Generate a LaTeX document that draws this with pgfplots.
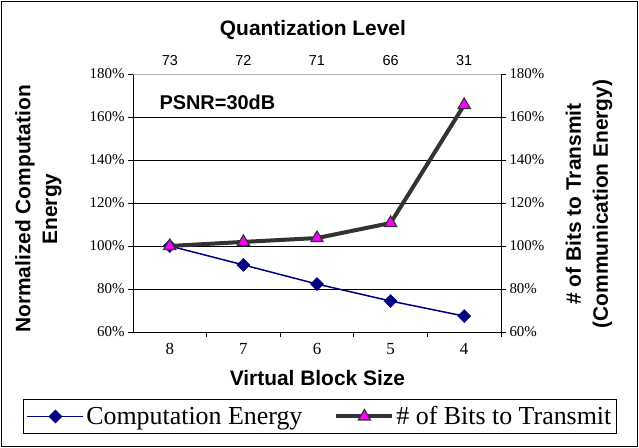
\documentclass[border=0pt]{standalone}
\usepackage{fontspec}
\setmainfont{Liberation Serif}
\setsansfont{Liberation Sans}
\usepackage{pgfplots}
\pgfplotsset{compat=1.18}

\definecolor{compnavy}{RGB}{0,0,128}
\definecolor{bitsgray}{RGB}{51,51,51}
\definecolor{bitsmag}{RGB}{255,0,255}

\tikzset{boldlab/.style={font=\sffamily\bfseries\fontsize{21}{27}\selectfont, align=center}}

% shared frame for both y axes
\pgfplotsset{
  base/.style={
    scale only axis, width=368bp, height=258bp,
    at={(133bp,116bp)}, anchor=south west,
    xmin=-0.5, xmax=4.5, ymin=60, ymax=180,
    ytick={60,80,...,180},
    /pgf/number format/assume math mode=true,
    yticklabel={\pgfmathprintnumber{\tick}\%},
    yticklabel style={font=\fontsize{15}{15}\selectfont},
    tick align=outside, major tick length=5bp,
    tick style={black, line width=0.8bp},
    axis line style={black, line width=0.8bp},
    clip=false,
  },
}

\begin{document}
\begin{tikzpicture}
\useasboundingbox (0,0) rectangle (639bp,448bp);
\draw[line width=1bp] (1.5bp,1.5bp) rectangle (637.5bp,446.5bp);

\begin{axis}[base,
  axis x line*=bottom, axis y line*=left,
  ymajorgrids, grid style={black, line width=0.6bp},
  % labels at the category centres; tick marks on the boundaries drawn below
  xtick={0,...,4}, xticklabels={8,7,6,5,4},
  xtick style={draw=none},
  xticklabel style={font=\fontsize{17}{17}\selectfont, yshift=-3bp},
  xlabel={Virtual Block Size},
  xlabel style={boldlab, at={(axis description cs:0.501,-0.178)}, anchor=center},
  ylabel={Normalized Computation\\Energy},
  ylabel style={boldlab, at={(axis description cs:-0.257,0.477)}, anchor=center},
]
\pgfplotsinvokeforeach{0.5,1.5,2.5,3.5,4.5}{
  \draw[black, line width=0.8bp] (axis cs:#1,60) -- ([yshift=-5bp]axis cs:#1,60);
}
\addplot[compnavy, line width=1.5bp, mark=square*, mark size=4.6bp,
  mark options={rotate=45, fill=compnavy, line width=0.5bp}]
  coordinates {(0,100) (1,91.2) (2,82.3) (3,74.4) (4,67.4)};
\node[font=\sffamily\bfseries\fontsize{20}{20}\selectfont, anchor=west]
  at (axis description cs:0.0625,0.888) {PSNR=30dB};
\end{axis}

\begin{axis}[base,
  axis x line*=top, axis y line*=right,
  x axis line style={draw=gray!60},
  xtick={0,...,4}, xticklabels={73,72,71,66,31},
  xtick style={draw=none},
  xticklabel style={font=\sffamily\fontsize{14.5}{14.5}\selectfont},
  xlabel={Quantization Level},
  xlabel style={boldlab, at={(axis description cs:0.489,1.1705)}, anchor=center},
  ylabel={\# of Bits to Transmit\\(Communication Energy)},
  ylabel style={boldlab, at={(axis description cs:1.239,0.496)}, anchor=center},
  legend columns=2,
  legend style={at={(axis description cs:0.508,-0.3275)}, anchor=center,
    draw=black, line width=0.8bp, font=\fontsize{26}{26}\selectfont,
    inner ysep=5bp,
    /tikz/every even column/.append style={column sep=30bp}},
  legend image code/.code={\draw[mark repeat=2,mark phase=2]
    plot coordinates {(0bp,0bp) (28bp,0bp) (56bp,0bp)};},
]
\addlegendimage{compnavy, line width=1.8bp, mark=square*, mark size=4.6bp,
  mark options={rotate=45, fill=compnavy, line width=0.5bp}}
\addlegendentry{Computation Energy}
\addplot[bitsgray, line width=4bp, mark=triangle*, mark size=7bp,
  mark options={fill=bitsmag, draw=bitsgray, line width=1.2bp}]
  coordinates {(0,100) (1,101.9) (2,103.7) (3,110.7) (4,165.6)};
\addlegendentry{\# of Bits to Transmit}
\end{axis}
\end{tikzpicture}
\end{document}
